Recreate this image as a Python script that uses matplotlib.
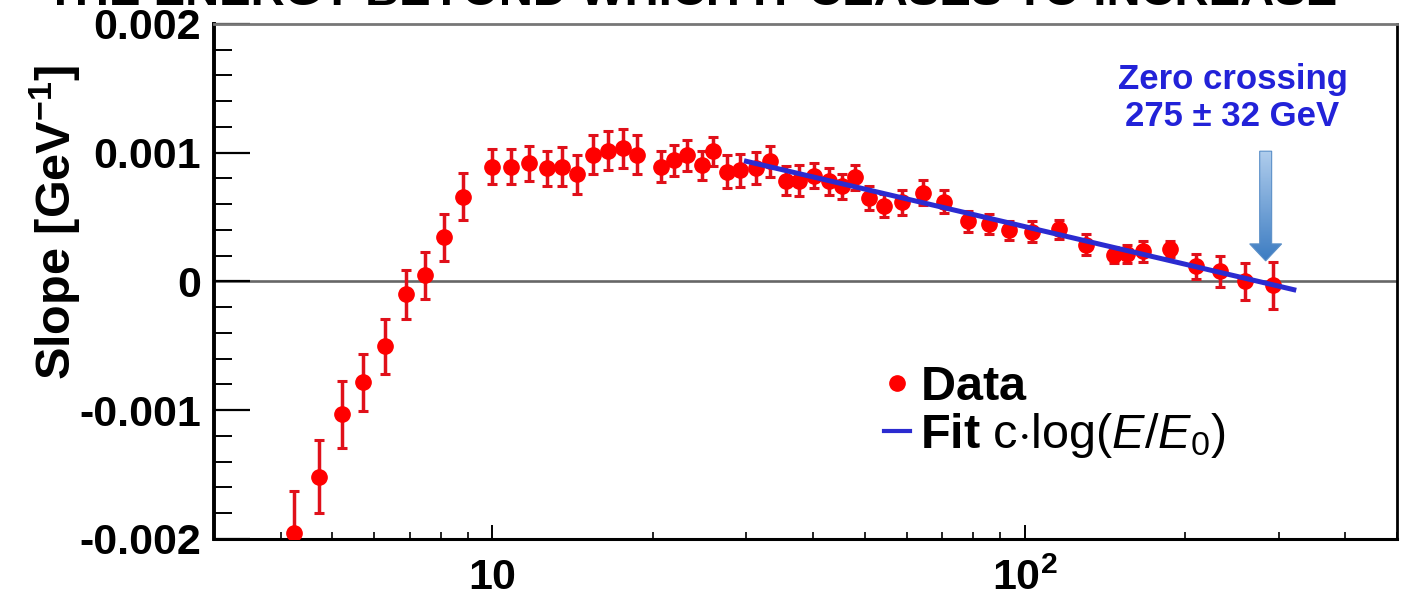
import numpy as np
import matplotlib.pyplot as plt
from matplotlib.patches import FancyArrow
from matplotlib.lines import Line2D
from matplotlib.colors import LinearSegmentedColormap
from matplotlib.ticker import MultipleLocator, LogLocator, NullFormatter

# energy bin centres [GeV]
energy = [4.24, 4.72, 5.22, 5.72, 6.29, 6.89, 7.48, 8.12, 8.82,
          10.0, 10.86, 11.69, 12.64, 13.49, 14.39, 15.43, 16.47, 17.57, 18.67,
          20.72, 21.93, 23.19, 24.75, 25.96, 27.58, 29.18, 31.28, 33.24, 35.63,
          37.69, 40.23, 42.93, 45.42, 48.05, 51.06, 54.48, 58.90, 64.26, 70.39,
          78.11, 85.55, 93.30, 103.1, 115.9, 130.3, 147.1, 155.6, 166.8, 187.5,
          209.9, 232.9, 259.6, 291.9]
# slope and its error, in units of 1e-3 GeV^-1
slope = [-1.957, -1.515, -1.033, -0.784, -0.505, -0.101, 0.047, 0.342, 0.660,
         0.893, 0.893, 0.917, 0.878, 0.893, 0.831, 0.986, 1.017, 1.033, 0.986,
         0.893, 0.940, 0.979, 0.901, 1.010, 0.854, 0.862, 0.885, 0.932, 0.784,
         0.784, 0.823, 0.777, 0.738, 0.808, 0.652, 0.590, 0.614, 0.691, 0.621,
         0.466, 0.443, 0.396, 0.388, 0.404, 0.287, 0.202, 0.210, 0.233, 0.249,
         0.117, 0.078, 0.000, -0.031]
slope_err = [0.33, 0.28, 0.26, 0.22, 0.21, 0.19, 0.185, 0.185, 0.18,
             0.133, 0.133, 0.136, 0.136, 0.148, 0.148, 0.149, 0.152, 0.155, 0.149,
             0.119, 0.12, 0.12, 0.11, 0.113, 0.13, 0.125, 0.124, 0.117, 0.11,
             0.117, 0.10, 0.108, 0.097, 0.097, 0.093, 0.093, 0.097, 0.097, 0.093,
             0.078, 0.078, 0.07, 0.078, 0.074, 0.078, 0.062, 0.07, 0.078, 0.062,
             0.10, 0.12, 0.14, 0.18]

# fit c*log10(E/E0) crossing zero at E0
fit_e0 = 275.0
fit_c = -0.97e-3
fit_range = [30.0, 320.0]

plt.rcParams['font.family'] = ['Liberation Sans', 'DejaVu Sans']
plt.rcParams['mathtext.fontset'] = 'custom'
plt.rcParams['mathtext.rm'] = 'Liberation Sans'
plt.rcParams['mathtext.it'] = 'Liberation Sans:italic'
plt.rcParams['mathtext.bf'] = 'Liberation Sans:bold'

fig = plt.figure(figsize=(14.21, 6.01), dpi=100)
ax = fig.add_axes([0.1506, 0.1032, 0.8325, 0.8569])

# gradient arrow pointing at the zero crossing
arrow = FancyArrow(0.889, 0.753, 0, -0.213, width=0.0101, head_width=0.027,
                   head_length=0.033, length_includes_head=True,
                   transform=ax.transAxes, facecolor='none',
                   edgecolor='#5a8fc8', lw=0.8, zorder=5)
ax.add_patch(arrow)
grad = LinearSegmentedColormap.from_list('arr', ['#b4d0ee', '#3c7cc2'])
im = ax.imshow(np.linspace(0, 1, 256).reshape(-1, 1), cmap=grad,
               extent=[0.87, 0.91, 0.54, 0.76], transform=ax.transAxes,
               aspect='auto', origin='upper', zorder=4)
im.set_clip_path(arrow)

ax.axhline(0, color='#666666', lw=1.9, zorder=1)

y = np.array(slope) * 1e-3
yerr = np.array(slope_err) * 1e-3
ax.errorbar(energy, y, yerr=yerr, fmt='o', color='red', ms=11,
            ecolor='#e0101a', elinewidth=2.5, capsize=3.5, capthick=2.2, zorder=3)

e_fit = np.geomspace(fit_range[0], fit_range[1], 60)
ax.plot(e_fit, fit_c * np.log10(e_fit / fit_e0), color='#2b2bd0', lw=3.6, zorder=4)

ax.set_xscale('log')
ax.set_xlim(3.0, 500)
ax.set_ylim(-0.002, 0.002)

ax.set_yticks([-0.002, -0.001, 0, 0.001, 0.002])
ax.set_yticklabels(['-0.002', '-0.001', '0', '0.001', '0.002'])
ax.yaxis.set_minor_locator(MultipleLocator(0.0002))
ax.set_xticks([10, 100])
ax.set_xticklabels(['10', r'$\mathbf{10^{2}}$'])
ax.xaxis.set_minor_locator(LogLocator(base=10, subs=np.arange(2, 10)))
ax.xaxis.set_minor_formatter(NullFormatter())

ax.tick_params(axis='y', which='major', direction='in', length=26, width=1.6,
               labelsize=31, pad=9.5, right=False)
ax.tick_params(axis='y', which='minor', direction='in', length=13, width=1.4, right=False)
ax.tick_params(axis='x', which='major', direction='in', length=10, width=1.4,
               labelsize=31, pad=14, top=False)
ax.tick_params(axis='x', which='minor', direction='in', length=5, width=1.2, top=False)
for lbl in ax.get_xticklabels() + ax.get_yticklabels():
    lbl.set_fontweight('bold')

ax.spines['left'].set_linewidth(2.8)
ax.spines['bottom'].set_linewidth(2.2)
ax.spines['right'].set_linewidth(2.0)
ax.spines['top'].set_linewidth(2.0)
ax.spines['top'].set_color('#777777')

handles = [Line2D([], [], marker='o', color='red', ls='none', ms=11),
           Line2D([], [], color='#2b2bd0', lw=3)]
labels = [r'$\mathbf{Data}$', r'$\mathbf{Fit}$ c$\cdot$log($\mathit{E/E_0}$)']
ax.legend(handles, labels, loc='upper left', bbox_to_anchor=(0.566, 0.338),
          frameon=False, fontsize=35, handlelength=0.55, handletextpad=0.2,
          labelspacing=0.02, borderpad=0, borderaxespad=0)

ax.text(0.861, 0.856, 'Zero crossing\n275 ± 32 GeV', transform=ax.transAxes,
        ha='center', va='center', fontsize=25, fontweight='bold',
        color='#2222d8', linespacing=1.15)

fig.text(55 / 1421, 1 - 222 / 601, r'$\mathbf{Slope\ [GeV^{-1}]}$', rotation=90,
         fontsize=35, ha='center', va='center')
fig.text(0.487, 1 - 5 / 601, 'THE ENERGY BEYOND WHICH IT CEASES TO INCREASE',
         ha='center', va='baseline', fontsize=34, fontweight='bold')

fig.savefig('out.png', dpi=100)
